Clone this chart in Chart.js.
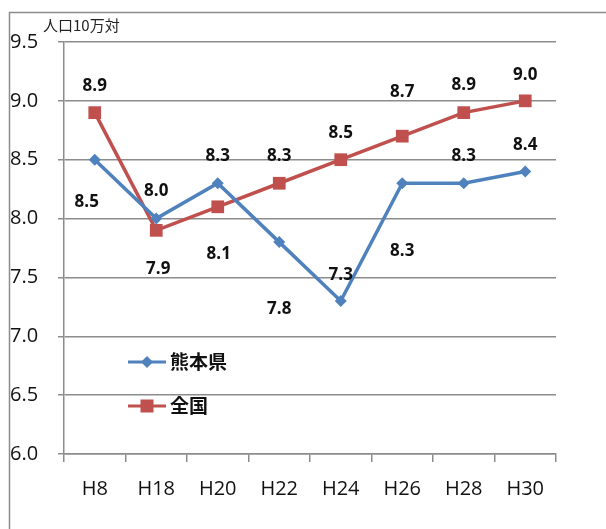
<!DOCTYPE html>
<html><head><meta charset="utf-8">
<script src="https://cdn.jsdelivr.net/npm/chart.js@4"></script>
<style>html,body{margin:0;padding:0;background:#fff}#w{width:606px;height:529px}</style>
</head><body><div id="w"><canvas id="c" width="606" height="529"></canvas></div>
<script>
const categories = ['H8','H18','H20','H22','H24','H26','H28','H30'];
const kumamoto = [8.5, 8.0, 8.3, 7.8, 7.3, 8.3, 8.3, 8.4];
const national = [8.9, 7.9, 8.1, 8.3, 8.5, 8.7, 8.9, 9.0];
const seriesNames = ['熊本県','全国'];
const unitLabel = '人口10万対';
const yMin = 6.0, yMax = 9.5, yStep = 0.5;

const BLUE = '#4F81BD', RED = '#C0504D', GRID = '#8c8c8c';
const TICKFONT = '"Open Sans", sans-serif';
const CJK = '"Noto Sans CJK JP", sans-serif';

// label placement offsets (style only): [dx, dy] relative to the point
const labelOffsets = [
  [[-8,42],[0,-27],[0,-27],[0,67],[0,-26],[0,68],[0,-27],[0,-26]],
  [[0,-26],[2,39],[1,47],[0,-27],[0,-27],[0,-44],[0,-27],[0,-26]]
];

const deco = {
  id:'deco',
  beforeDraw(chart){
    const ctx = chart.ctx;
    ctx.save();
    ctx.fillStyle='#fff'; ctx.fillRect(0,0,chart.width,chart.height);
    ctx.strokeStyle=GRID; ctx.lineWidth=1.5;
    ctx.strokeRect(9.5,12.5,800,800);
    ctx.restore();
  },
  afterDatasetsDraw(chart){
    const ctx = chart.ctx;
    ctx.save();
    ctx.fillStyle='#222'; ctx.font='15px '+CJK; ctx.textBaseline='middle'; ctx.textAlign='left';
    ctx.fillText(unitLabel, 43, 25);
    ctx.font='bold 17px '+TICKFONT; ctx.textAlign='center'; ctx.fillStyle='#111';
    chart.data.datasets.forEach((ds,i)=>{
      const meta = chart.getDatasetMeta(i);
      meta.data.forEach((pt,j)=>{
        const o = labelOffsets[i][j];
        ctx.fillText(ds.data[j].toFixed(1), pt.x+o[0], pt.y+o[1]);
      });
    });
    const lx = 128, rows=[362,406];
    chart.data.datasets.forEach((ds,i)=>{
      const y=rows[i];
      ctx.strokeStyle=ds.borderColor; ctx.lineWidth=3;
      ctx.beginPath(); ctx.moveTo(lx,y); ctx.lineTo(lx+38,y); ctx.stroke();
      ctx.fillStyle=ds.backgroundColor;
      if(i===0){
        ctx.beginPath(); ctx.moveTo(lx+19,y-6); ctx.lineTo(lx+25,y); ctx.lineTo(lx+19,y+6); ctx.lineTo(lx+13,y); ctx.closePath(); ctx.fill();
      } else {
        ctx.fillRect(lx+12.5,y-6.5,13,13);
      }
      ctx.fillStyle='#111'; ctx.font='bold 19px '+CJK; ctx.textAlign='left';
      ctx.fillText(ds.label, lx+42, y);
    });
    ctx.restore();
  }
};

new Chart(document.getElementById('c'), {
  type:'line',
  data:{
    labels: categories,
    datasets:[
      {label:seriesNames[0], data:kumamoto, borderColor:BLUE, backgroundColor:BLUE, borderWidth:3.5,
       pointStyle:'rectRot', pointRadius:6, pointHoverRadius:6, pointBorderWidth:0, tension:0},
      {label:seriesNames[1], data:national, borderColor:RED, backgroundColor:RED, borderWidth:3.5,
       pointStyle:'rect', pointRadius:9, pointHoverRadius:9, pointBorderWidth:0, tension:0}
    ]
  },
  options:{
    responsive:false, animation:false, devicePixelRatio:1,
    layout:{padding:{left:10,top:42,right:50,bottom:0}},
    plugins:{legend:{display:false}, tooltip:{enabled:false}},
    scales:{
      x:{
        offset:true,
        grid:{drawOnChartArea:false, drawTicks:true, tickLength:8, offset:true, color:GRID, lineWidth:1.5},
        border:{display:true, color:GRID, width:1.5},
        ticks:{font:{family:TICKFONT,size:20}, color:'#111', padding:15},
        afterFit(s){ s.height = 75; }
      },
      y:{
        min:yMin, max:yMax,
        grid:{color:GRID, lineWidth:1.5, tickLength:6},
        border:{display:true, color:GRID, width:1.5},
        ticks:{stepSize:yStep, font:{family:TICKFONT,size:20}, color:'#111', crossAlign:'far', padding:6,
               callback:v=>Number(v).toFixed(1)},
        afterFit(s){ s.width = 54; }
      }
    }
  },
  plugins:[deco]
});
</script></body></html>
